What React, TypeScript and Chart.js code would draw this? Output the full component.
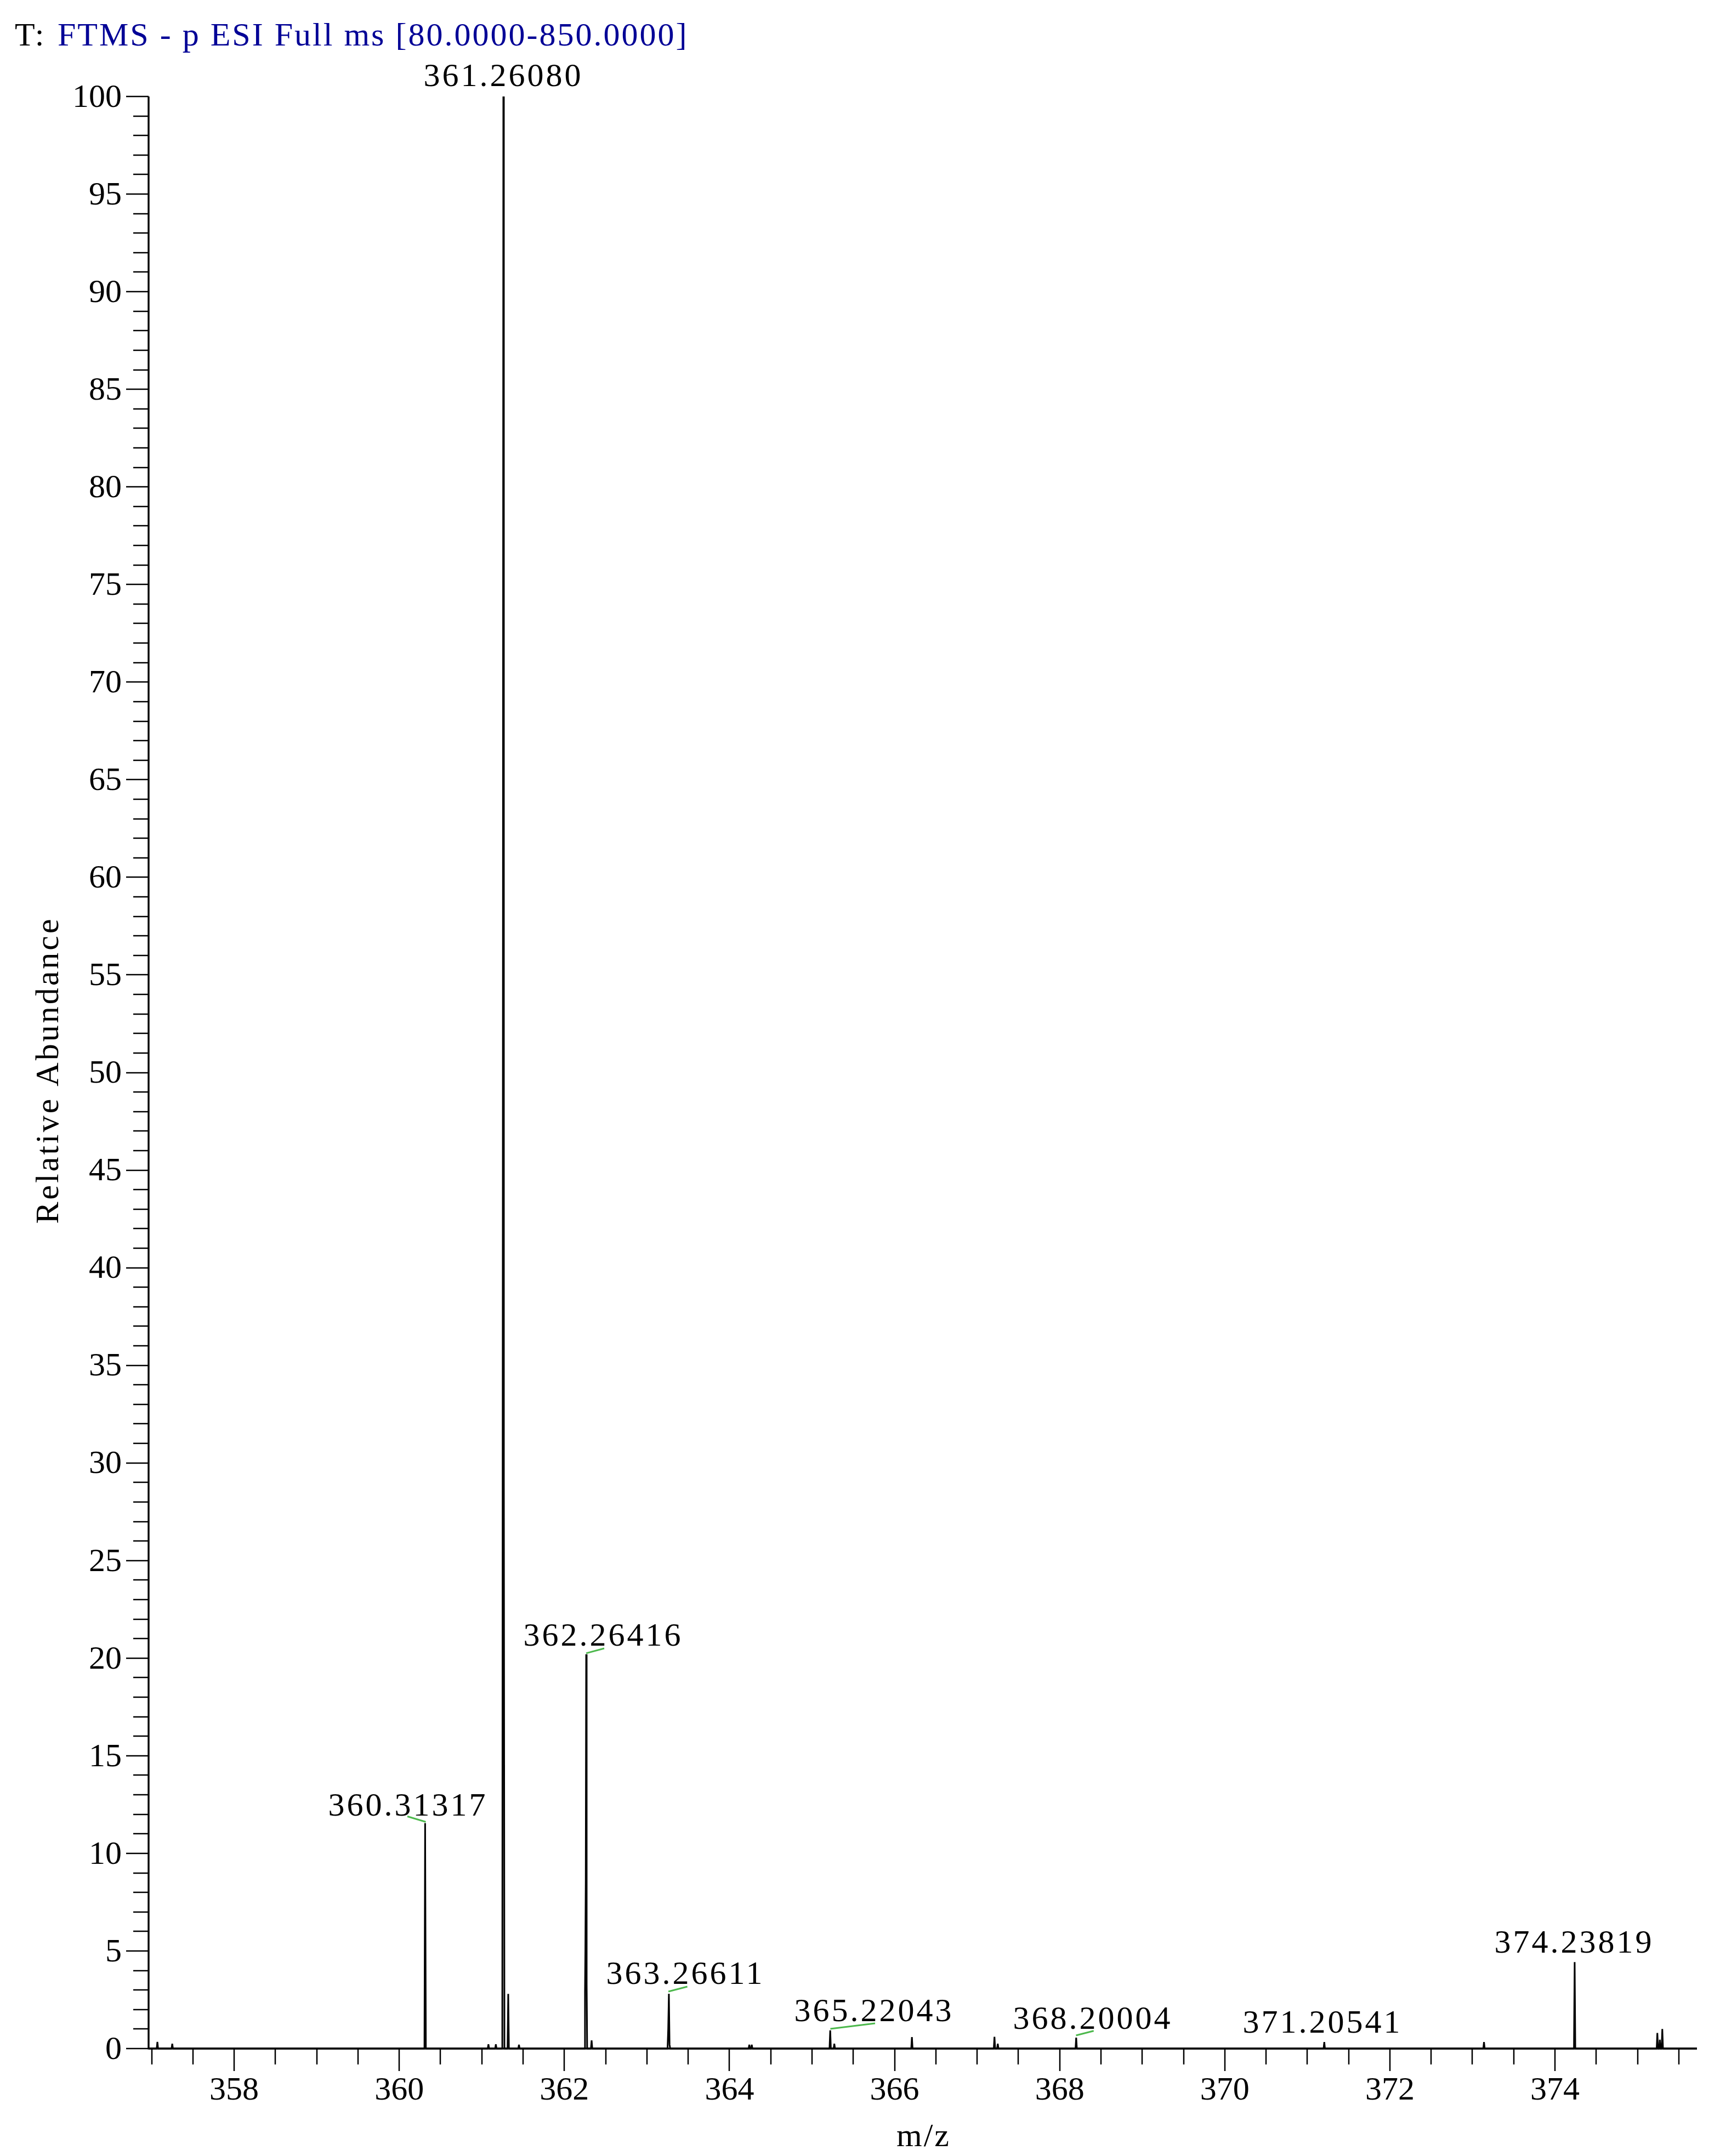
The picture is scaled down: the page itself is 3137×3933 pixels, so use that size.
import React, { useEffect, useRef } from "react";
import { Chart, registerables } from "chart.js";

Chart.register(...registerables);

// ---------------- text ----------------
const TITLE_PREFIX = "T:";
const TITLE_TEXT = "FTMS - p ESI Full ms [80.0000-850.0000]";
const X_TITLE = "m/z";
const Y_TITLE = "Relative Abundance";

// ---------------- axes ----------------
const X_MIN = 356.97;
const X_MAX = 375.72;
const Y_MIN = 0;
const Y_MAX = 100;
const xTickValues = [358, 360, 362, 364, 366, 368, 370, 372, 374];
const yTickValues = [0, 5, 10, 15, 20, 25, 30, 35, 40, 45, 50, 55, 60, 65, 70, 75, 80, 85, 90, 95, 100];

// ---------------- profile spectrum (m/z, relative abundance) ----------------
const profileMz = [
  356.97,
  357.062, 357.07, 357.078,
  357.242, 357.25, 357.258,
  360.305, 360.3132, 360.322,
  361.072, 361.08, 361.088,
  361.162, 361.17, 361.178,
  361.248, 361.2545, 361.2608, 361.267, 361.274,
  361.312, 361.32, 361.328,
  361.442, 361.45, 361.458,
  362.245, 362.25, 362.2545, 362.259, 362.2642, 362.27, 362.276,
  362.322, 362.33, 362.338,
  363.25, 363.258, 363.2661, 363.274, 363.282,
  364.232, 364.24, 364.248,
  364.262, 364.27, 364.278,
  365.212, 365.2204, 365.228,
  365.262, 365.27, 365.278,
  366.202, 366.21, 366.218,
  367.202, 367.21, 367.218,
  367.242, 367.25, 367.258,
  368.192, 368.2, 368.208,
  371.197, 371.2054, 371.213,
  373.132, 373.14, 373.148,
  374.23, 374.2382, 374.246,
  375.232, 375.24, 375.248,
  375.262, 375.27, 375.278,
  375.292, 375.3, 375.308,
  375.72,
];
const profileAbundance = [
  0,
  0, 0.34, 0,
  0, 0.25, 0,
  0, 11.55, 0,
  0, 0.22, 0,
  0, 0.22, 0,
  0, 44, 100, 29, 0,
  0, 2.8, 0,
  0, 0.2, 0,
  0, 2.9, 5.1, 8.6, 20.2, 3.3, 0,
  0, 0.42, 0,
  0, 1.0, 2.81, 0.2, 0,
  0, 0.2, 0,
  0, 0.2, 0,
  0, 0.93, 0,
  0, 0.25, 0,
  0, 0.59, 0,
  0, 0.6, 0,
  0, 0.25, 0,
  0, 0.56, 0,
  0, 0.33, 0,
  0, 0.33, 0,
  0, 4.43, 0,
  0, 0.8, 0,
  0, 0.45, 0,
  0, 1.0, 0,
  0,
];

// ---------------- peak annotations ----------------
const labelTexts = ["361.26080", "360.31317", "362.26416", "363.26611", "365.22043", "368.20004", "371.20541", "374.23819"];
// where the label text sits (data coordinates: centre m/z, baseline abundance)
const labelTextMz = [361.2474, 360.0917, 362.4562, 363.4525, 365.7373, 368.3874, 371.1703, 374.2189];
const labelTextAbundance = [100.53, 11.935, 20.654, 3.325, 1.418, 1.019, 0.814, 4.923];
// green leader lines (start near text, end at the peak); null = no leader
const leaderStartMz = [null, 360.0983, 362.4828, 363.4897, 365.7639, 368.4119, null, null];
const leaderStartAbundance = [null, 11.893, 20.5, 3.173, 1.292, 0.907, null, null];
const leaderEndMz = [null, 360.3208, 362.264, 363.26, 365.222, 368.198, null, null];
const leaderEndAbundance = [null, 11.612, 20.25, 2.92, 1.011, 0.674, null, null];

const FONT = "'Liberation Serif', 'Times New Roman', serif";

const decorPlugin = {
  id: "decor",
  afterDraw(chart: any) {
    const ctx: CanvasRenderingContext2D = chart.ctx;
    const xs = chart.scales.x;
    const ys = chart.scales.y;
    const area = chart.chartArea;
    ctx.save();

    // axis lines
    ctx.strokeStyle = "#000";
    ctx.lineWidth = 3.4;
    ctx.beginPath();
    ctx.moveTo(area.left - 1, area.top);
    ctx.lineTo(area.left - 1, area.bottom + 1.5);
    ctx.moveTo(area.left - 1, area.bottom);
    ctx.lineTo(area.right, area.bottom);
    ctx.stroke();

    // y ticks
    ctx.lineWidth = 2.5;
    ctx.beginPath();
    for (let v = Y_MIN; v <= Y_MAX; v += 1) {
      const py = Math.round(ys.getPixelForValue(v));
      const len = v % 5 === 0 ? 41 : 28;
      ctx.moveTo(area.left - 1 - len, py);
      ctx.lineTo(area.left - 1, py);
    }
    ctx.stroke();

    // x ticks
    ctx.beginPath();
    for (let v = 357; v <= 375.5 + 1e-9; v += 0.5) {
      const px = Math.round(xs.getPixelForValue(v));
      const len = xTickValues.includes(v) ? 41 : 29;
      ctx.moveTo(px, area.bottom);
      ctx.lineTo(px, area.bottom + len);
    }
    ctx.stroke();

    // header
    ctx.textBaseline = "alphabetic";
    ctx.textAlign = "left";
    ctx.font = `60px ${FONT}`;
    ctx.fillStyle = "#000";
    (ctx as any).letterSpacing = "3px";
    ctx.fillText(TITLE_PREFIX, 27, 83);
    ctx.fillStyle = "#000096";
    ctx.fillText(TITLE_TEXT, 105, 83);

    // x title
    ctx.fillStyle = "#000";
    ctx.textAlign = "center";
    ctx.fillText(X_TITLE, (area.left + area.right) / 2 + 1, 3915);

    // y title
    ctx.save();
    (ctx as any).letterSpacing = "4px";
    ctx.translate(106, (area.top + area.bottom) / 2 - 2);
    ctx.rotate(-Math.PI / 2);
    ctx.textAlign = "center";
    ctx.fillText(Y_TITLE, 2, 0);
    ctx.restore();

    // peak labels
    (ctx as any).letterSpacing = "4px";
    ctx.textAlign = "center";
    ctx.fillStyle = "#000";
    for (let i = 0; i < labelTexts.length; i++) {
      const px = xs.getPixelForValue(labelTextMz[i]) + 2;
      const py = ys.getPixelForValue(labelTextAbundance[i]);
      ctx.fillText(labelTexts[i], px, py);
    }
    ctx.strokeStyle = "#4cb84c";
    ctx.lineWidth = 3;
    ctx.beginPath();
    for (let i = 0; i < labelTexts.length; i++) {
      const sm = leaderStartMz[i];
      const sa = leaderStartAbundance[i];
      const em = leaderEndMz[i];
      const ea = leaderEndAbundance[i];
      if (sm == null || sa == null || em == null || ea == null) continue;
      ctx.moveTo(xs.getPixelForValue(sm), ys.getPixelForValue(sa));
      ctx.lineTo(xs.getPixelForValue(em), ys.getPixelForValue(ea));
    }
    ctx.stroke();
    ctx.restore();
  },
};

export default function App() {
  const canvasRef = useRef<HTMLCanvasElement | null>(null);

  useEffect(() => {
    const canvas = canvasRef.current;
    if (!canvas) return;
    const points = profileMz.map((x, i) => ({ x, y: profileAbundance[i] }));
    const chart = new Chart(canvas, {
      type: "line",
      data: {
        datasets: [
          {
            data: points,
            borderColor: "#000",
            borderWidth: 3,
            borderJoinStyle: "bevel",
            pointRadius: 0,
            tension: 0,
            fill: false,
            clip: false,
          } as any,
        ],
      },
      options: {
        animation: false,
        responsive: false,
        devicePixelRatio: 1,
        events: [],
        layout: { padding: { top: 176, right: 42, bottom: 0, left: 0 } },
        plugins: {
          legend: { display: false },
          tooltip: { enabled: false },
          title: { display: false },
        },
        scales: {
          x: {
            type: "linear",
            min: X_MIN,
            max: X_MAX,
            grid: { display: false, drawTicks: false },
            border: { display: false },
            ticks: {
              autoSkip: false,
              maxRotation: 0,
              minRotation: 0,
              padding: 41,
              color: "#000",
              font: { family: FONT, size: 60 },
              callback: (v: any) => String(v),
            },
            afterBuildTicks: (s: any) => {
              s.ticks = xTickValues.map((value) => ({ value }));
            },
            afterFit: (s: any) => {
              s.height = 196;
            },
          },
          y: {
            type: "linear",
            min: Y_MIN,
            max: Y_MAX,
            grid: { display: false, drawTicks: false },
            border: { display: false },
            ticks: {
              autoSkip: false,
              padding: 50,
              labelOffset: 3,
              color: "#000",
              font: { family: FONT, size: 60 },
              callback: (v: any) => String(v),
            },
            afterBuildTicks: (s: any) => {
              s.ticks = yTickValues.map((value) => ({ value }));
            },
            afterFit: (s: any) => {
              s.width = 272;
            },
          },
        },
      } as any,
      plugins: [decorPlugin],
    });
    return () => chart.destroy();
  }, []);

  return (
    <canvas
      ref={canvasRef}
      width={3137}
      height={3933}
      style={{ position: "absolute", left: 0, top: 0, display: "block", background: "#fff" }}
    />
  );
}
